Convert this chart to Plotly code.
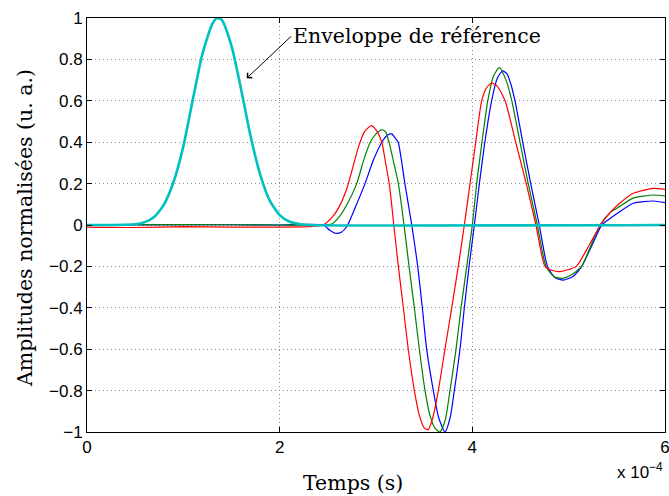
import plotly.graph_objects as go

# Time in units of 1e-4 s
t_env = [0.0, 0.5, 0.6, 0.7, 0.8, 0.9, 1.0, 1.1, 1.2, 1.3, 1.35, 1.4, 1.5, 1.6, 1.7, 1.8, 1.9, 2.0, 2.1, 2.2, 2.3, 6.0]
y_env = [0.0, 0.004, 0.014, 0.04, 0.10, 0.21, 0.38, 0.61, 0.83, 0.97, 1.0, 0.99, 0.865, 0.655, 0.425, 0.24, 0.115, 0.048, 0.017, 0.005, 0.0, 0.0]

t_red = [0.0, 0.5, 1.0, 1.5, 2.0, 2.3, 2.45, 2.55, 2.62, 2.70, 2.76, 2.82, 2.88, 2.95, 3.00, 3.06, 3.10, 3.14, 3.185,
         3.232, 3.284, 3.335, 3.398, 3.45, 3.50, 3.54, 3.59, 3.647, 3.716, 3.786, 3.854, 3.917, 3.976, 4.035, 4.097,
         4.15, 4.20, 4.26, 4.34, 4.45, 4.56, 4.66, 4.755, 4.83, 4.91, 5.0, 5.08, 5.21, 5.33, 5.43, 5.53, 5.67, 5.88, 6.0]
y_red = [-0.01, -0.012, -0.008, -0.01, -0.01, -0.008, 0.0, 0.04, 0.09, 0.18, 0.28, 0.38, 0.45, 0.48, 0.46, 0.40, 0.30, 0.19, 0.0,
         -0.2, -0.4, -0.6, -0.8, -0.92, -0.98, -0.99, -0.93, -0.8, -0.6, -0.4, -0.2, 0.0, 0.2, 0.4, 0.6,
         0.665, 0.685, 0.67, 0.6, 0.4, 0.2, 0.0, -0.2, -0.22, -0.225, -0.215, -0.2, -0.1, 0.0, 0.06, 0.105, 0.153, 0.177, 0.172]

t_green = [0.0, 1.0, 2.0, 2.4, 2.54, 2.62, 2.70, 2.80, 2.87, 2.94, 3.00, 3.06, 3.10, 3.135, 3.18, 3.232, 3.291, 3.343,
           3.398, 3.450, 3.509, 3.56, 3.61, 3.664, 3.72, 3.768, 3.831, 3.883, 3.942, 4.0, 4.045, 4.10, 4.16, 4.22,
           4.28, 4.35, 4.41, 4.495, 4.58, 4.675, 4.765, 4.85, 4.93, 5.03, 5.135, 5.23, 5.325, 5.43, 5.53, 5.67, 5.88, 6.0]
y_green = [0.0, 0.002, 0.0, 0.0, 0.005, 0.04, 0.10, 0.20, 0.31, 0.40, 0.44, 0.46, 0.45, 0.40, 0.31, 0.2, 0.0, -0.2,
           -0.4, -0.6, -0.8, -0.92, -0.98, -1.0, -0.94, -0.8, -0.6, -0.4, -0.2, 0.0, 0.2, 0.4, 0.6, 0.72,
           0.76, 0.70, 0.6, 0.4, 0.2, 0.0, -0.2, -0.25, -0.258, -0.24, -0.2, -0.1, 0.0, 0.06, 0.09, 0.13, 0.145, 0.14]

t_blue = [0.0, 1.0, 2.0, 2.45, 2.52, 2.58, 2.64, 2.70, 2.78, 2.886, 2.97, 3.06, 3.12, 3.163, 3.20, 3.23, 3.30, 3.371,
          3.433, 3.481, 3.526, 3.595, 3.65, 3.716, 3.77, 3.813, 3.872, 3.917, 3.966, 4.021, 4.073, 4.13, 4.20, 4.26,
          4.315, 4.36, 4.40, 4.443, 4.523, 4.606, 4.695, 4.78, 4.86, 4.945, 5.04, 5.135, 5.24, 5.343, 5.44, 5.53, 5.67, 5.88, 6.0]
y_blue = [0.0, 0.002, 0.0, 0.0, -0.025, -0.04, -0.035, -0.005, 0.08, 0.2, 0.31, 0.4, 0.435, 0.44, 0.42, 0.4, 0.2, 0.0,
          -0.2, -0.4, -0.6, -0.8, -0.93, -1.0, -0.93, -0.8, -0.6, -0.4, -0.2, 0.0, 0.2, 0.4, 0.6, 0.71,
          0.745, 0.73, 0.68, 0.6, 0.4, 0.2, 0.0, -0.2, -0.255, -0.266, -0.25, -0.2, -0.1, 0.0, 0.035, 0.064, 0.105, 0.116, 0.108]

x_ticks = [0, 2, 4, 6]
y_ticks = [-1, -0.8, -0.6, -0.4, -0.2, 0, 0.2, 0.4, 0.6, 0.8, 1]

fig = go.Figure()
fig.add_trace(go.Scatter(x=t_blue, y=y_blue, mode="lines", line=dict(color="#0000FF", width=1.2, shape="spline", smoothing=0.6)))
fig.add_trace(go.Scatter(x=t_green, y=y_green, mode="lines", line=dict(color="#008000", width=1.2, shape="spline", smoothing=0.6)))
fig.add_trace(go.Scatter(x=t_red, y=y_red, mode="lines", line=dict(color="#FF0000", width=1.2, shape="spline", smoothing=0.6)))
fig.add_trace(go.Scatter(x=t_env, y=y_env, mode="lines", line=dict(color="#00BFBF", width=2.6, shape="spline", smoothing=0.6)))

axis_common = dict(showline=True, linecolor="black", linewidth=1, mirror="ticks", ticks="inside", ticklen=5,
                   tickcolor="black", showgrid=True, gridcolor="#8a8a8a", griddash="1px,3px", gridwidth=1,
                   zeroline=False, ticklabeloverflow="allow", automargin=False,
                   tickfont=dict(family="Liberation Sans, Arial", size=17, color="black"))

fig.update_layout(
    width=669, height=496, showlegend=False,
    paper_bgcolor="white", plot_bgcolor="white",
    margin=dict(l=87, r=4, t=18, b=64),
    xaxis=dict(range=[0, 6], tickvals=x_ticks, **axis_common),
    yaxis=dict(range=[-1, 1], tickvals=y_ticks, **axis_common),
)

serif = dict(family="DejaVu Serif", size=20.5, color="black")
fig.add_annotation(x=1.658, y=0.709, ax=2.12, ay=0.912, xref="x", yref="y", axref="x", ayref="y",
                   text="Enveloppe de référence", xanchor="left", yanchor="middle", font=serif,
                   showarrow=True, arrowhead=4, arrowsize=1.3, arrowwidth=1, arrowcolor="black", standoff=0)
fig.add_annotation(x=0.46, y=-0.123, xref="paper", yref="paper", text="Temps (s)", showarrow=False,
                   xanchor="center", yanchor="middle", font=serif)
fig.add_annotation(x=-0.107, y=0.493, xref="paper", yref="paper", text="Amplitudes normalisées (u. a.)",
                   showarrow=False, textangle=-90, xanchor="center", yanchor="middle", font=serif)
fig.add_annotation(x=1.0, y=-0.095, xref="paper", yref="paper", text="x 10<sup>−4</sup>", showarrow=False,
                   xanchor="right", yanchor="middle", font=dict(family="Liberation Sans, Arial", size=17, color="black"))

# Remove the default page margin so the 669x496 figure fills the window exactly.
fig.write_html("out.html", config={"displayModeBar": False},
               post_script="document.body.style.margin='0';document.body.style.overflow='hidden';")
